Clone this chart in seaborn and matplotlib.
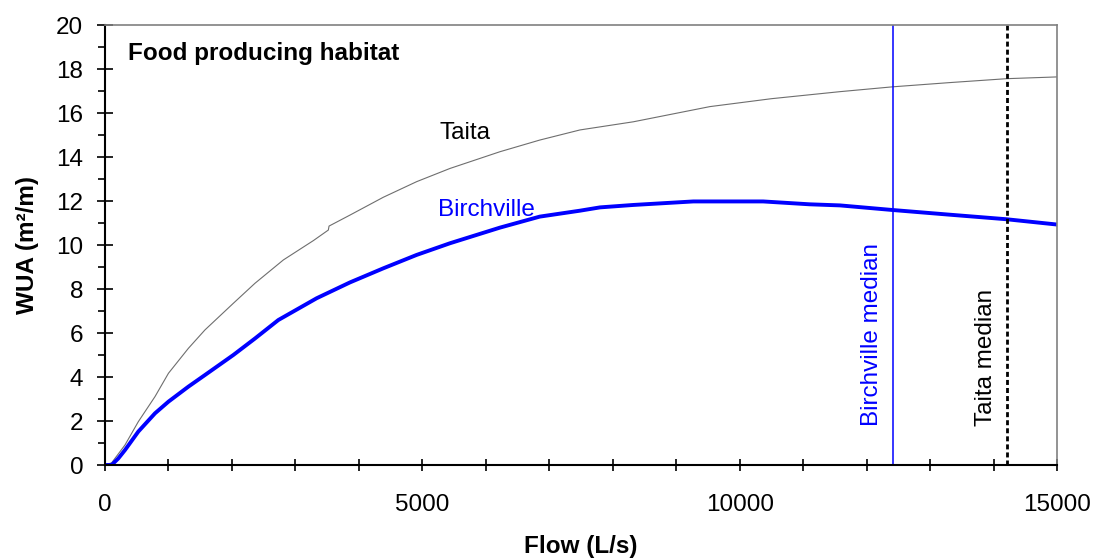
import matplotlib
matplotlib.use("Agg")
import matplotlib.pyplot as plt
from matplotlib.ticker import MultipleLocator, FixedLocator
import seaborn as sns

# ---- data ----
taita_flow = [0, 105, 315, 525, 788, 1000, 1313, 1575, 2022, 2363, 2810, 3283, 3519, 3530,
              3860, 4385, 4911, 5436, 6223, 6850, 7484, 8324, 9530, 10500, 11580, 12411,
              13300, 14207, 15000]
taita_wua = [0, 0.1, 0.91, 1.97, 3.11, 4.17, 5.30, 6.14, 7.35, 8.26, 9.32, 10.2, 10.68, 10.86,
             11.36, 12.17, 12.88, 13.48, 14.24, 14.77, 15.23, 15.6, 16.29, 16.65, 16.97, 17.19,
             17.38, 17.56, 17.64]

birch_flow = [0, 105, 210, 315, 525, 788, 1000, 1313, 1575, 2022, 2363, 2731, 3335, 3860,
              4385, 4911, 5436, 6223, 6850, 7484, 7800, 8324, 9270, 10370, 11100, 11580,
              12411, 13300, 14207, 15000]
birch_wua = [0, 0, 0.3, 0.68, 1.52, 2.35, 2.88, 3.56, 4.09, 5.0, 5.75, 6.59, 7.58, 8.30,
             8.94, 9.55, 10.08, 10.79, 11.29, 11.56, 11.71, 11.82, 11.98, 11.98, 11.85, 11.80,
             11.59, 11.38, 11.17, 10.93]

birch_median = 12411
taita_median = 14207

x_ticks = [0, 5000, 10000, 15000]
y_ticks = [0, 2, 4, 6, 8, 10, 12, 14, 16, 18, 20]

title_text = "Food producing habitat"
xlabel_text = "Flow (L/s)"
ylabel_text = "WUA (m²/m)"

# ---- style ----
sns.set_style("white")
plt.rcParams["font.family"] = ["Liberation Sans", "DejaVu Sans"]
plt.rcParams["text.color"] = "black"
plt.rcParams["axes.labelcolor"] = "black"
plt.rcParams["xtick.color"] = "black"
plt.rcParams["ytick.color"] = "black"
FS = 17.5

fig = plt.figure(figsize=(11.01, 5.59), dpi=100)
ax = fig.add_axes([105 / 1101, 94 / 559, 952 / 1101, 440 / 559])

sns.lineplot(x=taita_flow, y=taita_wua, ax=ax, color="#6e6e6e", linewidth=0.8,
             estimator=None, sort=False)
sns.lineplot(x=birch_flow, y=birch_wua, ax=ax, color="#0000ff", linewidth=2.8,
             estimator=None, sort=False)

ax.axvline(birch_median, color="#0000ff", linewidth=1.1)
ax.axvline(taita_median, color="black", linewidth=2.0, linestyle=(0, (1.8, 1.1)))

ax.set_xlim(0, 15000)
ax.set_ylim(0, 20)

ax.xaxis.set_major_locator(FixedLocator(x_ticks))
ax.xaxis.set_minor_locator(MultipleLocator(1000))
ax.yaxis.set_major_locator(FixedLocator(y_ticks))
ax.yaxis.set_minor_locator(MultipleLocator(1))

ax.tick_params(axis="x", which="both", direction="inout", length=8.6, width=1.2,
               color="black", labelcolor="black", labelsize=FS, pad=16.5, bottom=True)
ax.tick_params(axis="y", which="major", direction="inout", length=11.5, width=1.2,
               color="black", labelcolor="black", labelsize=FS, pad=10, left=True)
ax.tick_params(axis="y", which="minor", direction="out", length=5, width=1.2,
               color="black", left=True)

for s in ["left", "bottom"]:
    ax.spines[s].set_color("black")
    ax.spines[s].set_linewidth(1.5)
for s in ["top", "right"]:
    ax.spines[s].set_color("#808080")
    ax.spines[s].set_linewidth(1.2)
    ax.spines[s].set_visible(True)

ax.set_xlabel(xlabel_text, fontsize=FS, fontweight="bold", color="black")
ax.set_ylabel(ylabel_text, fontsize=FS, fontweight="bold", color="black")
ax.xaxis.set_label_coords(0.5, -0.158)
ax.yaxis.set_label_coords(-0.069, 0.5)

ax.text(362, 18.7, title_text, fontsize=FS, fontweight="bold", ha="left", va="center",
        color="black")
ax.text(5278, 15.1, "Taita", fontsize=FS, color="black", ha="left", va="center")
ax.text(5247, 11.6, "Birchville", fontsize=FS, color="#0000ff", ha="left", va="center")
ax.text(12258, 1.77, "Birchville median", fontsize=FS, color="#0000ff", rotation=90,
        ha="right", va="bottom")
ax.text(14054, 1.77, "Taita median", fontsize=FS, color="black", rotation=90,
        ha="right", va="bottom")

fig.savefig("out.png", dpi=100)
